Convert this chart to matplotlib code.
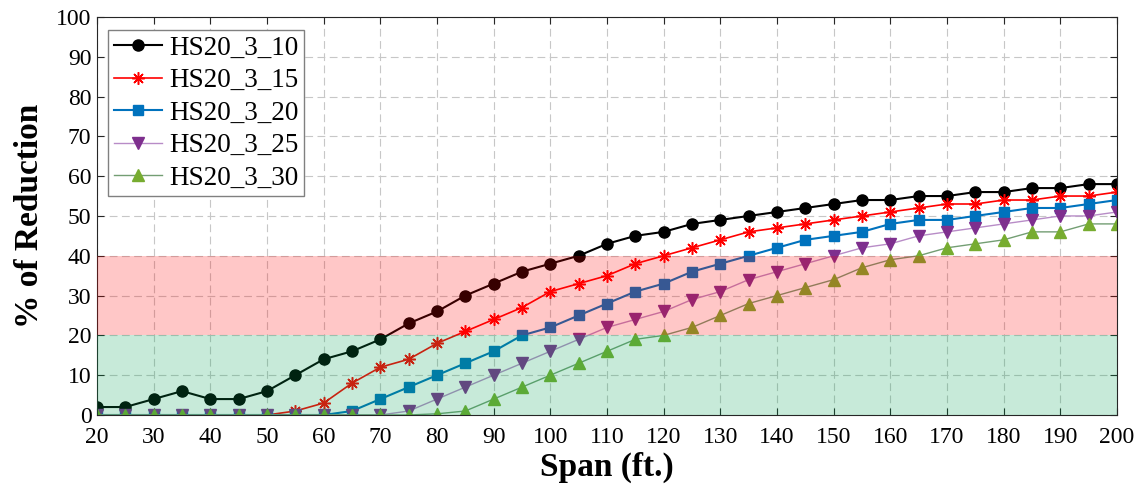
import numpy as np
import matplotlib
matplotlib.use('Agg')
import matplotlib.pyplot as plt

plt.rcParams['font.family'] = ['Liberation Serif', 'DejaVu Serif']

span = list(range(20, 205, 5))

hs10 = [2, 2, 4, 6, 4, 4, 6, 10, 14, 16, 19, 23, 26, 30, 33, 36, 38, 40, 43, 45,
        46, 48, 49, 50, 51, 52, 53, 54, 54, 55, 55, 56, 56, 57, 57, 58, 58]
hs15 = [0, 0, 0, 0, 0, 0, 0, 1, 3, 8, 12, 14, 18, 21, 24, 27, 31, 33, 35, 38,
        40, 42, 44, 46, 47, 48, 49, 50, 51, 52, 53, 53, 54, 54, 55, 55, 56]
hs20 = [0, 0, 0, 0, 0, 0, 0, 0, 0, 1, 4, 7, 10, 13, 16, 20, 22, 25, 28, 31,
        33, 36, 38, 40, 42, 44, 45, 46, 48, 49, 49, 50, 51, 52, 52, 53, 54]
hs25 = [0, 0, 0, 0, 0, 0, 0, 0, 0, 0, 0, 1, 4, 7, 10, 13, 16, 19, 22, 24,
        26, 29, 31, 34, 36, 38, 40, 42, 43, 45, 46, 47, 48, 49, 50, 50, 51]
hs30 = [0, 0, 0, 0, 0, 0, 0, 0, 0, 0, 0, 0, 0.3, 1, 4, 7, 10, 13, 16, 19,
        20, 22, 25, 28, 30, 32, 34, 37, 39, 40, 42, 43, 44, 46, 46, 48, 48]

labels = ['HS20_3_10', 'HS20_3_15', 'HS20_3_20', 'HS20_3_25', 'HS20_3_30']

fig = plt.figure(figsize=(11.41, 4.97), dpi=100)
ax = fig.add_axes([0.085, 0.165, 0.894, 0.801])

blue = (0, 0.447, 0.741)
purple = (0.494, 0.184, 0.556)
green = (0.466, 0.674, 0.188)

ax.plot(span, hs10, '-o', color='black', lw=1.5, ms=8, label=labels[0])
ax.plot(span, hs15, '-', marker=(8, 2, 0), color='red', lw=1.2, ms=9,
        mew=1.1, label=labels[1])
ax.plot(span, hs20, '-s', color=blue, lw=1.5, ms=7, label=labels[2])
ax.plot(span, hs25, '-v', color=(0.72, 0.55, 0.78), lw=1.0, ms=8.5,
        mfc=purple, mec=purple, label=labels[3])
ax.plot(span, hs30, '-^', color=(0.45, 0.62, 0.45), lw=1.0, ms=8.5,
        mfc=green, mec=green, label=labels[4])

# shaded bands drawn over the lines, semi-transparent
ax.axhspan(0, 20, color=(0, 0.64, 0.32), alpha=0.22, lw=0, zorder=5)
ax.axhspan(20, 40, color=(1, 0, 0), alpha=0.22, lw=0, zorder=5)

ax.set_xlim(20, 200)
ax.set_ylim(0, 100)
ax.set_xticks(range(20, 201, 10))
ax.set_yticks(range(0, 101, 10))
ax.grid(True, ls=(0, (7, 4)), color=(0.78, 0.78, 0.78), lw=0.8)
ax.tick_params(direction='in', top=True, right=True, labelsize=17,
               length=5, color=(0.15, 0.15, 0.15))
ax.tick_params(axis='x', pad=9)
ax.tick_params(axis='y', pad=4)
for s in ax.spines.values():
    s.set_color((0.15, 0.15, 0.15))
    s.set_linewidth(0.8)

ax.set_xlabel('Span (ft.)', fontsize=24, fontweight='bold', labelpad=2)
ax.set_ylabel('% of Reduction', fontsize=24, fontweight='bold', labelpad=8)

leg = ax.legend(loc='upper left', fontsize=19.5, fancybox=False, framealpha=1,
                edgecolor=(0.5, 0.5, 0.5), handlelength=1.8, borderpad=0.2,
                labelspacing=0.28, handletextpad=0.25, borderaxespad=0,
                bbox_to_anchor=(0.011, 0.967))
leg.set_zorder(10)

fig.savefig('out.png', dpi=100)
